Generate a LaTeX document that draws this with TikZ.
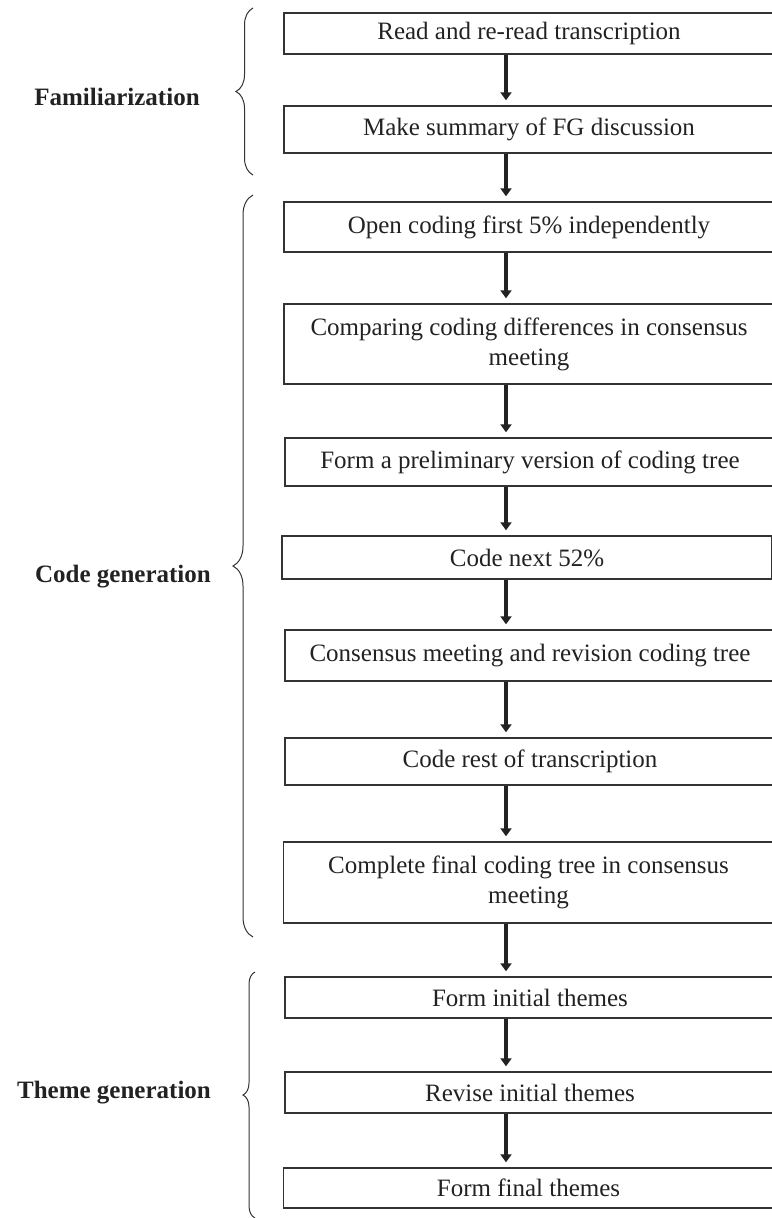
\documentclass[tikz,border=0pt]{standalone}
\usepackage{fontspec}
\setmainfont{Liberation Serif}
\usetikzlibrary{arrows.meta,decorations.pathreplacing}
\definecolor{ink}{HTML}{222222}
\definecolor{edge}{HTML}{333333}
\begin{document}
\begin{tikzpicture}[x=1pt,y=-1pt,
  stepbox/.style={draw=edge,line width=1.4pt,rectangle,inner sep=0pt,minimum width=490pt,
    font=\fontsize{25}{30}\selectfont,text=ink,align=center},
  flow/.style={draw=ink,line width=3.6pt,-{Triangle[width=11pt,length=8pt]},shorten >=5pt},
  phase/.style={font=\fontsize{25}{30}\selectfont\bfseries,text=ink},
  bracket/.style={draw=edge,line width=1pt,decorate}]
\useasboundingbox (0,0) rectangle (771,1218);
\coordinate (ax) at (506,0);
\node[stepbox,minimum height=41pt] (b1) at (529,33.5) {Read and re-read transcription};
\node[stepbox,minimum height=47pt] (b2) at (529,129.5) {Make summary of FG discussion};
\node[stepbox,minimum height=50pt] (b3) at (529,227) {Open coding first 5\% independently};
\node[stepbox,minimum height=80pt] (b4) at (529,344) {Comparing coding differences in consensus\\meeting};
\node[stepbox,minimum height=48pt] (b5) at (530,462) {Form a preliminary version of coding tree};
\node[stepbox,minimum height=43pt] (b6) at (527,557.5) {Code next 52\%};
\node[stepbox,minimum height=51pt] (b7) at (530,655.5) {Consensus meeting and revision coding tree};
\node[stepbox,minimum height=47pt] (b8) at (530,761.5) {Code rest of transcription};
\node[stepbox,minimum height=81pt] (b9) at (528.5,882.5) {Complete final coding tree in consensus\\meeting};
\node[stepbox,minimum height=41pt] (b10) at (530,997.5) {Form initial themes};
\node[stepbox,minimum height=41pt] (b11) at (530,1092.5) {Revise initial themes};
\node[stepbox,minimum height=40pt] (b12) at (528.5,1188) {Form final themes};
\foreach \a/\b in {b1/b2,b2/b3,b3/b4,b4/b5,b5/b6,b6/b7,b7/b8,b8/b9,b9/b10,b10/b11,b11/b12}
  \draw[flow] (\a.south -| ax) -- (\b.north -| ax);
\node[phase] (p1) at (117,97) {Familiarization};
\node[phase] (p2) at (123,577) {Code generation};
\node[phase] (p3) at (114,1093) {Theme generation};
\coordinate (f1) at (253,175); \coordinate (f2) at (253,8);
\coordinate (c1) at (253,937); \coordinate (c2) at (253,195);
\coordinate (t1) at (255,1218); \coordinate (t2) at (255,972);
\draw[bracket,decoration={brace,amplitude=17pt}] (f1) -- (f2);
\draw[bracket,decoration={brace,amplitude=20pt}] (c1) -- (c2);
\draw[bracket,decoration={brace,amplitude=12pt}] (t1) -- (t2);
\end{tikzpicture}
\end{document}
